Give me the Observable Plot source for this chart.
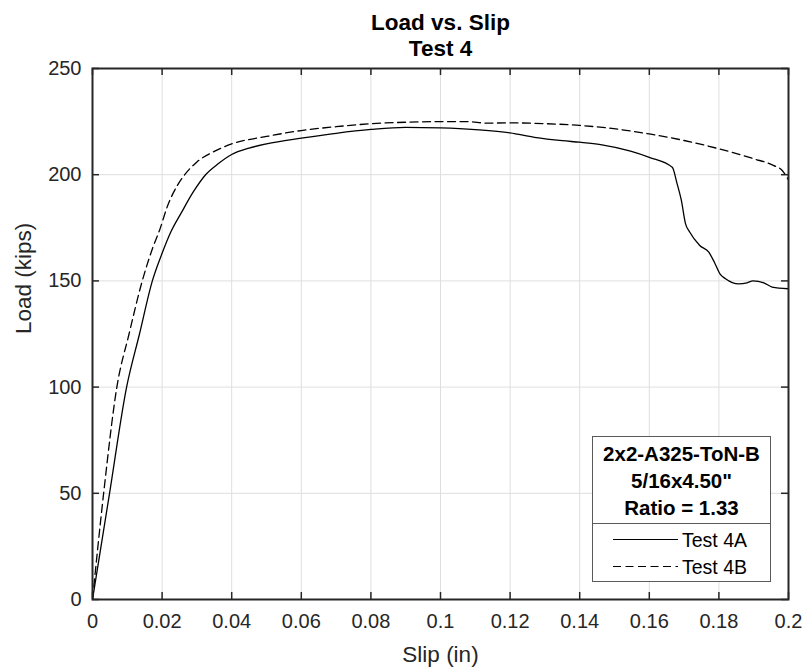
<!DOCTYPE html>
<html>
<head>
<meta charset="utf-8">
<script src="https://cdn.jsdelivr.net/npm/d3@7"></script>
<script src="https://cdn.jsdelivr.net/npm/@observablehq/plot@0.6"></script>
<style>
  body { margin: 0; background: white; }
  #wrap { position: relative; width: 804px; height: 667px; font-family: "Liberation Sans", Arial, sans-serif; color: #262626; }
  #legend { position: absolute; left: 592px; top: 436px; width: 177px; height: 144px; border: 1px solid #5a5a5a; background: white; box-sizing: content-box; }
  #legend .hdr { height: 87px; border-bottom: 1px solid #5a5a5a; text-align: center; font-weight: bold; font-size: 20.5px; line-height: 27px; padding-top: 3px; box-sizing: border-box; color: #000; }
  #legend .row { position: absolute; left: 0; height: 24px; font-size: 19.5px; color: #000; }
  #legend .row svg { position: absolute; left: 20px; top: 0; }
  #legend .row span { position: absolute; left: 89px; top: 1px; white-space: nowrap; }
</style>
</head>
<body>
<div id="wrap"></div>
<script>
// ---- data ----
const slipA = [0, 0.0049, 0.0098, 0.0135, 0.0172, 0.0200, 0.0225, 0.0255, 0.0290, 0.0325, 0.0360, 0.0400, 0.0450, 0.0500, 0.0600, 0.0700, 0.0800, 0.0900, 0.1000, 0.1100, 0.1200, 0.1270, 0.1350, 0.1400, 0.1460, 0.1546, 0.1600, 0.1666, 0.1680, 0.1692, 0.1704, 0.1716, 0.1745, 0.1771, 0.1787, 0.1803, 0.1819, 0.1857, 0.1881, 0.1898, 0.1929, 0.1953, 0.2000];
const loadA = [0, 50, 100, 125, 150, 163, 173, 182, 192, 200, 205, 209.5, 212.5, 214.5, 217.2, 219.5, 221.3, 222.3, 222.0, 221.2, 219.7, 217.6, 216.0, 215.3, 214.2, 211.1, 208.2, 203.5, 195.7, 188.0, 177.0, 173.0, 166.7, 163.5, 158.8, 153.3, 151.0, 148.6, 149.1, 150.0, 149.1, 147.1, 146.3];

const slipB = [0, 0.0032, 0.0070, 0.0105, 0.0143, 0.0174, 0.0193, 0.0215, 0.0244, 0.0265, 0.0300, 0.0350, 0.0400, 0.0500, 0.0600, 0.0700, 0.0800, 0.0900, 0.1000, 0.1080, 0.1130, 0.1200, 0.1307, 0.1400, 0.1480, 0.1600, 0.1700, 0.1800, 0.1900, 0.1958, 0.1982, 0.2000];
const loadB = [0, 50, 100, 125, 150, 166, 174, 185, 195, 200, 206, 211, 214.5, 218, 220.8, 222.6, 224.0, 224.7, 225.0, 225.0, 224.3, 224.4, 224.0, 223.2, 222.0, 219.2, 216.1, 212.2, 207.5, 204.3, 202.0, 197.5];

const xTicks = [0, 0.02, 0.04, 0.06, 0.08, 0.1, 0.12, 0.14, 0.16, 0.18, 0.2];
const xTickLabels = ["0", "0.02", "0.04", "0.06", "0.08", "0.1", "0.12", "0.14", "0.16", "0.18", "0.2"];
const yTicks = [0, 50, 100, 150, 200, 250];
const yTickLabels = ["0", "50", "100", "150", "200", "250"];

const seriesNames = ["Test 4A", "Test 4B"];
const titleLines = ["Load vs. Slip", "Test 4"];
const xLabel = "Slip (in)";
const yLabel = "Load (kips)";
const legendHeader = ["2x2-A325-ToN-B", "5/16x4.50\"", "Ratio = 1.33"];

// ---- build ----
const A = slipA.map((s, i) => ({slip: s, load: loadA[i]}));
const B = slipB.map((s, i) => ({slip: s, load: loadB[i]}));

const W = 804, H = 667;
const mL = 92, mR = 16, mT = 68, mB = 68;
const fw = W - mL - mR, fh = H - mT - mB;
const tickLen = 7;
const gridColor = "#dedede";
const axisColor = "#262626";

const chart = Plot.plot({
  width: W, height: H,
  marginLeft: mL, marginRight: mR, marginTop: mT, marginBottom: mB,
  style: {fontFamily: "'Liberation Sans', Arial, sans-serif", fontSize: "20px", color: axisColor, background: "white", overflow: "visible"},
  x: {domain: [0, 0.2]},
  y: {domain: [0, 250]},
  marks: [
    Plot.ruleX(xTicks, {x: d => d, stroke: gridColor, strokeWidth: 1}),
    Plot.ruleY(yTicks, {y: d => d, stroke: gridColor, strokeWidth: 1}),
    Plot.line(A, {x: "slip", y: "load", stroke: "#000", strokeWidth: 1.3, curve: "monotone-x", clip: true}),
    Plot.line(B, {x: "slip", y: "load", stroke: "#000", strokeWidth: 1.3, strokeDasharray: "8,4.5", curve: "monotone-x", clip: true}),
    Plot.ruleX(xTicks, {x: d => d, insetTop: fh - tickLen, stroke: axisColor, strokeWidth: 1.5}),
    Plot.ruleX(xTicks, {x: d => d, insetBottom: fh - tickLen, stroke: axisColor, strokeWidth: 1.5}),
    Plot.ruleY(yTicks, {y: d => d, insetRight: fw - tickLen, stroke: axisColor, strokeWidth: 1.5}),
    Plot.ruleY(yTicks, {y: d => d, insetLeft: fw - tickLen, stroke: axisColor, strokeWidth: 1.5}),
    Plot.frame({stroke: axisColor, strokeWidth: 2}),
    Plot.axisX(xTicks, {tickSize: 0, tickPadding: 14, tickFormat: (d) => xTickLabels[xTicks.indexOf(d)], label: null, fill: axisColor, fontSize: 20}),
    Plot.axisY(yTicks, {tickSize: 0, tickPadding: 11, tickFormat: (d) => yTickLabels[yTicks.indexOf(d)], label: null, fill: axisColor, fontSize: 20}),
    Plot.text([titleLines[0]], {text: d => d, frameAnchor: "top", lineAnchor: "middle", dy: -46, fontWeight: "bold", fontSize: 22.5, fill: "#000"}),
    Plot.text([titleLines[1]], {text: d => d, frameAnchor: "top", lineAnchor: "middle", dy: -20, fontWeight: "bold", fontSize: 22.5, fill: "#000"}),
    Plot.text([xLabel], {text: d => d, frameAnchor: "bottom", lineAnchor: "middle", dy: 55, fontSize: 22.5, fill: axisColor}),
    Plot.text([yLabel], {text: d => d, frameAnchor: "left", lineAnchor: "middle", dx: -69, rotate: -90, fontSize: 22.5, fill: axisColor})
  ]
});

const wrap = document.getElementById("wrap");
wrap.appendChild(chart);

// legend
const leg = document.createElement("div");
leg.id = "legend";
const hdr = document.createElement("div");
hdr.className = "hdr";
hdr.innerHTML = legendHeader.map(t => `<div>${t.replace(/"/g, "&quot;")}</div>`).join("");
leg.appendChild(hdr);
const dashes = [null, "8,4.5"];
seriesNames.forEach((name, i) => {
  const row = document.createElement("div");
  row.className = "row";
  row.style.top = (91 + i * 27) + "px";
  row.style.width = "177px";
  row.innerHTML = `<svg width="66" height="24"><line x1="0" x2="65" y1="11.5" y2="11.5" stroke="#000" stroke-width="1.2" ${dashes[i] ? `stroke-dasharray="${dashes[i]}"` : ""}/></svg><span>${name}</span>`;
  leg.appendChild(row);
});
wrap.appendChild(leg);
</script>
</body>
</html>
